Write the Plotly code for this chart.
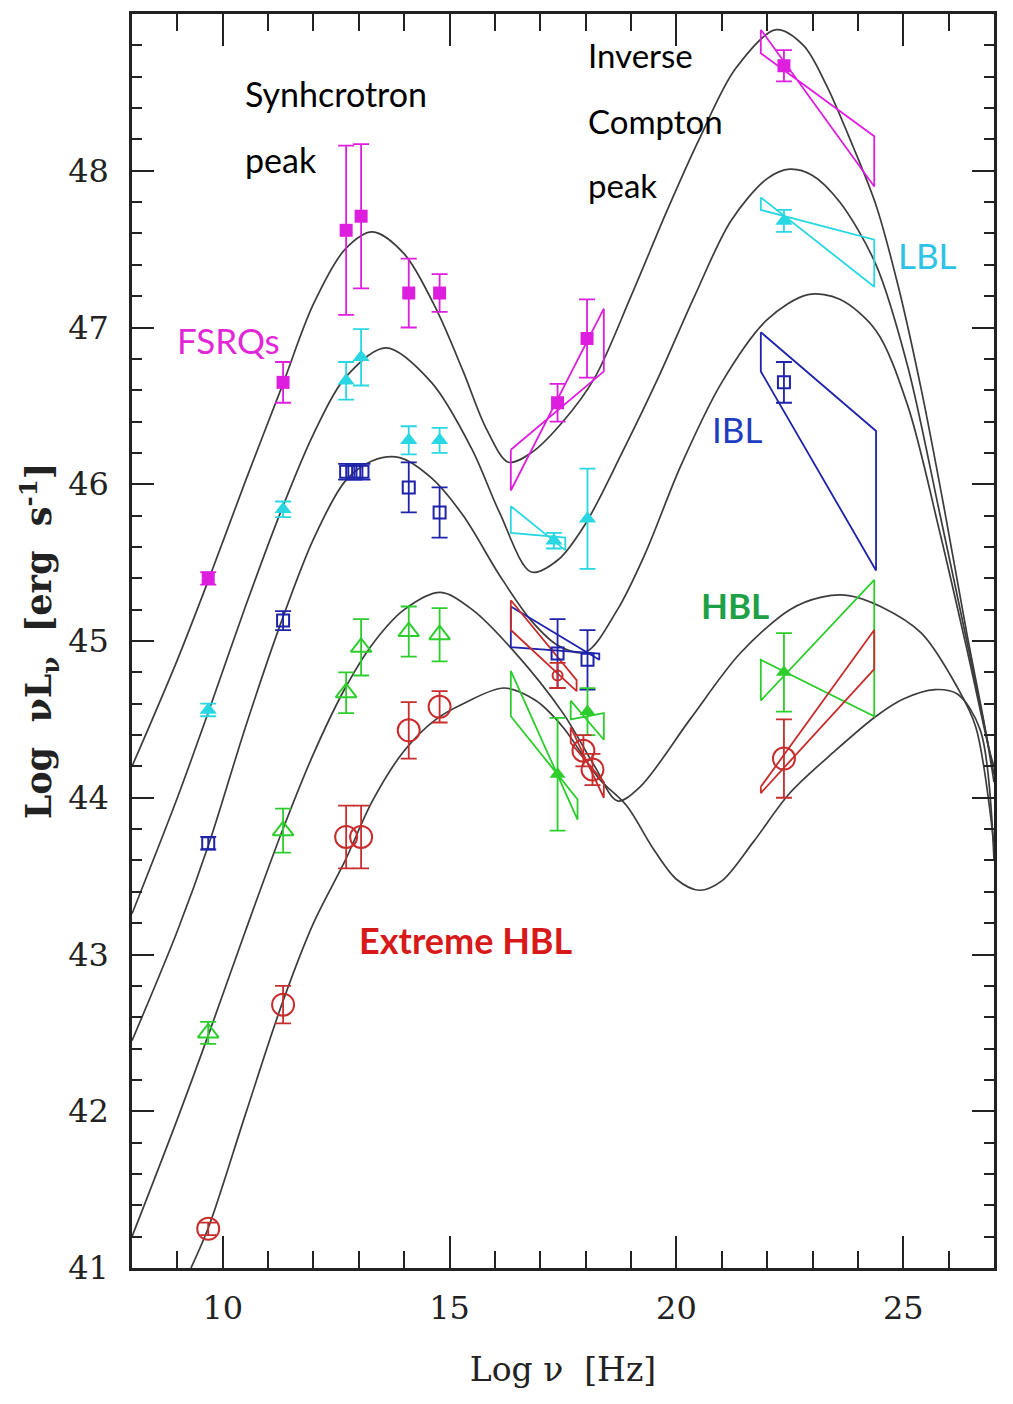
import plotly.graph_objects as go

# ---------------- model SED curves ----------------
fsrq_curve_x = [8.0, 9.0, 9.7, 10.5, 11.3, 12.0, 12.7, 13.3, 14.0, 14.7, 15.3, 15.8, 16.3, 16.8, 17.5, 18.2,
                19.0, 19.8, 20.5, 21.3, 22.2, 22.8, 23.3, 23.9, 24.4, 24.9, 25.4, 25.9, 26.4, 26.8, 27.0]
fsrq_curve_y = [44.2, 44.88, 45.4, 46.02, 46.62, 47.15, 47.5, 47.61, 47.47, 47.12, 46.72, 46.36, 46.14, 46.2, 46.4, 46.68,
                47.2, 47.75, 48.2, 48.65, 48.9, 48.8, 48.55, 48.15, 47.78, 47.25, 46.6, 45.85, 45.05, 44.45, 44.1]

lbl_curve_x = [8.0, 9.0, 9.7, 10.5, 11.3, 12.0, 12.7, 13.6, 14.6, 15.5, 16.1, 16.8, 17.4, 18.0, 18.8, 19.6,
               20.4, 21.2, 22.0, 22.5, 23.0, 23.6, 24.4, 25.1, 25.8, 26.4, 26.9, 27.0]
lbl_curve_y = [43.26, 44.0, 44.56, 45.22, 45.84, 46.32, 46.68, 46.87, 46.65, 46.22, 45.82, 45.44, 45.52, 45.75, 46.2, 46.68,
               47.2, 47.68, 47.95, 48.01, 47.97, 47.8, 47.4, 46.75, 45.82, 45.0, 44.3, 44.15]

ibl_curve_x = [8.0, 9.0, 9.7, 10.5, 11.3, 12.0, 12.7, 13.3, 13.9, 14.6, 15.3, 16.1, 16.8, 17.4, 18.0, 18.7,
               19.3, 20.1, 21.0, 22.0, 22.9, 23.6, 24.4, 25.1, 25.8, 26.4, 26.9, 27.0]
ibl_curve_y = [42.45, 43.15, 43.71, 44.45, 45.13, 45.65, 46.02, 46.15, 46.17, 46.04, 45.8, 45.42, 45.13, 44.97, 44.93, 45.2,
               45.55, 46.12, 46.65, 47.05, 47.21, 47.18, 46.98, 46.5, 45.7, 44.95, 44.3, 44.2]

hbl_curve_x = [8.0, 9.0, 9.7, 10.5, 11.3, 12.0, 12.7, 13.3, 14.0, 14.8, 15.5, 16.4, 17.5, 18.2, 18.7, 19.2,
               20.3, 21.4, 22.5, 23.2, 23.8, 24.5, 25.4, 26.2, 26.6, 27.0]
hbl_curve_y = [41.2, 41.95, 42.5, 43.15, 43.78, 44.28, 44.7, 44.98, 45.2, 45.31, 45.2, 44.94, 44.54, 44.2, 43.98, 44.07,
               44.5, 44.92, 45.2, 45.28, 45.29, 45.22, 45.05, 44.7, 44.45, 43.7]

ehbl_curve_x = [9.3, 9.7, 10.5, 11.3, 12.0, 12.7, 13.3, 14.0, 14.7, 15.3, 16.2, 16.9, 17.5, 18.3, 18.9, 19.5,
                20.0, 20.5, 21.0, 21.7, 22.5, 23.5, 24.4, 25.0, 25.7, 26.2, 26.7, 27.0]
ehbl_curve_y = [41.0, 41.27, 41.98, 42.68, 43.2, 43.6, 43.98, 44.3, 44.5, 44.6, 44.7, 44.62, 44.45, 44.12, 43.95, 43.67,
                43.48, 43.41, 43.47, 43.72, 44.03, 44.3, 44.52, 44.63, 44.69, 44.66, 44.43, 43.6]

# ---------------- data points ----------------
fsrq_x = [9.68, 11.33, 12.72, 13.05, 14.1, 14.78, 17.38, 18.03, 22.37]
fsrq_y = [45.40, 46.65, 47.62, 47.71, 47.22, 47.22, 46.52, 46.93, 48.67]
fsrq_err = [0.04, 0.13, 0.54, 0.46, 0.22, 0.12, 0.12, 0.25, 0.1]

lbl_x = [9.68, 11.33, 12.72, 13.05, 14.1, 14.78, 17.3, 18.04, 22.37]
lbl_y = [44.56, 45.84, 46.66, 46.81, 46.28, 46.28, 45.64, 45.78, 47.68]
lbl_err = [0.04, 0.05, 0.12, 0.18, 0.09, 0.08, 0.05, 0.32, 0.07]

ibl_x = [9.68, 11.33, 12.72, 12.9, 13.08, 14.1, 14.78, 17.38, 18.04, 22.37]
ibl_y = [43.71, 45.13, 46.08, 46.08, 46.08, 45.98, 45.82, 44.92, 44.88, 46.65]
ibl_err = [0.04, 0.06, 0.05, 0.05, 0.05, 0.16, 0.16, 0.22, 0.19, 0.13]

hbl_x = [9.68, 11.33, 12.72, 13.05, 14.1, 14.78]
hbl_y = [42.5, 43.79, 44.67, 44.96, 45.06, 45.04]
hbl_err = [0.07, 0.14, 0.13, 0.18, 0.16, 0.17]
hbl_hi_x = [17.38, 18.04, 22.37]
hbl_hi_y = [44.15, 44.55, 44.8]
hbl_hi_err = [0.36, 0.15, 0.25]

ehbl_x = [9.68, 11.33, 12.72, 13.05, 14.1, 14.78, 17.95, 18.15, 22.37]
ehbl_y = [41.25, 42.68, 43.75, 43.75, 44.43, 44.58, 44.3, 44.18, 44.25]
ehbl_err = [0.04, 0.12, 0.2, 0.2, 0.18, 0.1, 0.1, 0.1, 0.25]
ehbl_small_x = [17.38]
ehbl_small_y = [44.78]
ehbl_small_err = [0.08]

# bow-ties: (x_left, x_right, lineA_left, lineA_right, lineB_left, lineB_right)
fsrq_bowties = [(16.35, 18.4, 46.22, 46.72, 45.96, 47.12), (21.86, 24.36, 48.9, 47.9, 48.75, 48.22)]
lbl_bowties = [(16.35, 17.55, 45.86, 45.58, 45.69, 45.66), (21.86, 24.36, 47.83, 47.26, 47.75, 47.56)]
ibl_bowties = [(16.35, 18.3, 45.22, 44.88, 44.96, 44.92), (21.86, 24.4, 46.97, 46.34, 46.72, 45.45)]
hbl_bowties = [(16.35, 17.82, 44.81, 43.86, 44.52, 43.99), (17.67, 18.4, 44.62, 44.37, 44.5, 44.54),
               (21.86, 24.36, 44.62, 45.39, 44.88, 44.52)]
ehbl_bowties = [(16.35, 17.8, 45.26, 44.75, 45.07, 44.68), (17.67, 18.4, 44.45, 44.0, 44.35, 44.1),
                (21.86, 24.36, 44.07, 45.07, 44.03, 44.82)]

x_tickvals = [10, 15, 20, 25]
y_tickvals = [41, 42, 43, 44, 45, 46, 47, 48]

MAG = "rgb(222,30,222)"
CYA = "rgb(40,215,225)"
BLU = "rgb(30,35,170)"
GRN = "rgb(45,205,45)"
RED = "rgb(200,45,45)"

fig = go.Figure()

for cx, cy in [(fsrq_curve_x, fsrq_curve_y), (lbl_curve_x, lbl_curve_y), (ibl_curve_x, ibl_curve_y),
               (hbl_curve_x, hbl_curve_y), (ehbl_curve_x, ehbl_curve_y)]:
    fig.add_trace(go.Scatter(x=cx, y=cy, mode="lines",
                             line=dict(color="#3c3c3c", width=1.7, shape="spline", smoothing=0.9),
                             hoverinfo="skip", showlegend=False))

for bows, col in [(fsrq_bowties, MAG), (lbl_bowties, CYA), (ibl_bowties, BLU),
                  (hbl_bowties, GRN), (ehbl_bowties, RED)]:
    for (x1, x2, a1, a2, b1, b2) in bows:
        fig.add_trace(go.Scatter(x=[x1, x2, x2, x1, x1], y=[a1, a2, b2, b1, a1], mode="lines",
                                 line=dict(color=col, width=1.8), hoverinfo="skip", showlegend=False))


def pts(x, y, e, col, symbol, size, lw=0):
    fig.add_trace(go.Scatter(
        x=x, y=y, mode="markers",
        marker=dict(symbol=symbol, size=size, color=col, line=dict(color=col, width=lw)),
        error_y=dict(type="data", array=e, visible=True, color=col, thickness=1.8, width=8),
        showlegend=False))


pts(fsrq_x, fsrq_y, fsrq_err, MAG, "square", 13)
pts(lbl_x, lbl_y, lbl_err, CYA, "triangle-up", 15)
pts(ibl_x, ibl_y, ibl_err, BLU, "square-open", 12, 2)
pts(hbl_x, hbl_y, hbl_err, GRN, "triangle-up-open", 18, 2)
pts(hbl_hi_x, hbl_hi_y, hbl_hi_err, GRN, "triangle-up", 14)
pts(ehbl_x, ehbl_y, ehbl_err, RED, "circle-open", 22, 2)
pts(ehbl_small_x, ehbl_small_y, ehbl_small_err, RED, "circle-open", 10, 2)

TXT = "Lato"
ann = [
    ("Synhcrotron", 10.45, 48.49, "black", 34, "left"),
    ("peak", 10.45, 48.07, "black", 34, "left"),
    ("Inverse", 18.0, 48.74, "black", 33, "left"),
    ("Compton", 18.0, 48.32, "black", 33, "left"),
    ("peak", 18.0, 47.91, "black", 33, "left"),
    ("FSRQs", 8.95, 46.92, "rgb(225,40,215)", 35, "left"),
    ("LBL", 24.85, 47.46, "rgb(45,195,230)", 35, "left"),
    ("IBL", 20.75, 46.35, "rgb(30,60,190)", 35, "left"),
    ("<b>HBL</b>", 20.5, 45.23, "rgb(30,160,70)", 35, "left"),
    ("<b>Extreme HBL</b>", 15.37, 43.09, "rgb(215,25,25)", 36, "center"),
]
for t, x, y, c, s, xa in ann:
    fig.add_annotation(x=x, y=y, text=t, showarrow=False, xanchor=xa, yanchor="middle",
                       font=dict(family=TXT, size=s, color=c))

axis_common = dict(showline=True, linecolor="#222", linewidth=2.5, mirror="allticks", ticks="inside",
                   showgrid=False, zeroline=False, tickcolor="#222", tickwidth=2,
                   tickfont=dict(family="DejaVu Serif", size=32, color="#222"))

fig.update_xaxes(range=[8, 27], tickvals=x_tickvals, ticklen=32,
                 minor=dict(dtick=1, tick0=0, ticks="inside", ticklen=17, tickwidth=2, tickcolor="#222", showgrid=False),
                 title=dict(text="Log ν  [Hz]", font=dict(family="DejaVu Serif", size=33, color="#222"), standoff=32),
                 ticklabelstandoff=10,
                 **axis_common)
fig.update_yaxes(range=[41, 49], tickvals=y_tickvals, ticklen=22,
                 minor=dict(dtick=0.2, tick0=41, ticks="inside", ticklen=10, tickwidth=2, tickcolor="#222", showgrid=False),
                 title=dict(text="<b>Log  νL<sub>ν</sub>  [erg  s<sup>-1</sup>]</b>",
                            font=dict(family="DejaVu Serif", size=35, color="#222"), standoff=6),
                 ticklabelstandoff=14,
                 **axis_common)

fig.update_layout(width=1013, height=1404, margin=dict(l=132, r=19, t=14, b=136),
                  plot_bgcolor="white", paper_bgcolor="white", showlegend=False)

fig.write_html("out.html")
